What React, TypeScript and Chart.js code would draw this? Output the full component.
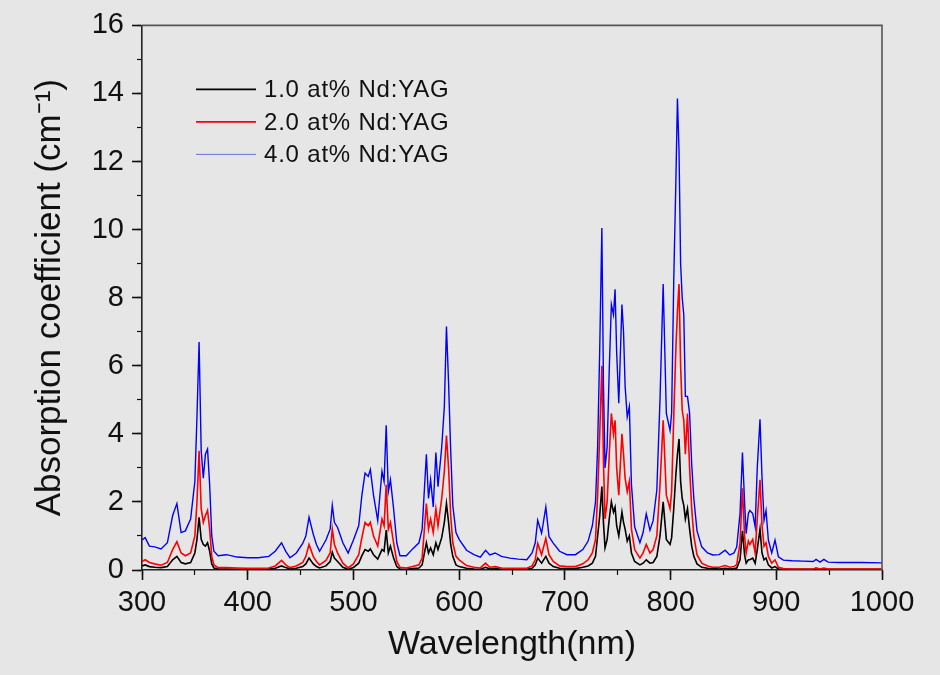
import React, { useEffect, useRef } from 'react';
import { Chart, registerables } from 'chart.js';

Chart.register(...registerables);

// Wavelength grid (nm), shared by all three spectra
const wavelengths = [
  300, 303, 307, 312, 318, 324, 329, 333, 337, 341,
  346, 350, 352, 354, 356, 358, 360, 362, 364, 366,
  368, 372, 380, 390, 400, 410, 420, 426, 432, 436,
  440, 446, 452, 455, 458, 462, 465, 468, 474, 478,
  480, 482, 485, 490, 495, 500, 505, 508, 511, 514,
  516, 519, 523, 527, 529, 531, 533, 535, 538, 541,
  544, 550, 556, 562, 565, 569, 571, 573, 575.5, 578,
  580, 583.5, 586, 588, 590, 592, 594, 597, 600, 607,
  614, 620, 625, 629, 634, 640, 648, 656, 664, 669,
  672, 674.3, 678, 682, 685, 689, 695, 702, 710, 717,
  722, 726, 729, 731, 733, 735, 736.5, 738, 740, 742,
  744, 746, 747.5, 749, 751, 754, 755.5, 757, 759, 761,
  763, 766, 771, 774, 777, 780.5, 783.5, 787, 790, 793,
  796, 799.5, 801, 803, 805, 806.5, 808, 809.5, 811, 812.5,
  814, 816, 818, 820, 822, 825, 829.5, 835, 840, 846,
  851.6, 856, 860, 862.6, 865.7, 868, 870, 871.5, 873.6, 875,
  877.7, 880, 882, 884.6, 886.5, 888.4, 890.3, 892.5, 895.7, 898.8,
  902, 906.7, 915, 925, 935, 937.6, 941.4, 945, 949, 960,
  980, 1000,
];

// 1.0 at% Nd:YAG absorption coefficient (cm^-1)
const nd10 = [
  0.12, 0.15, 0.1, 0.08, 0.07, 0.1, 0.3, 0.4, 0.22, 0.18,
  0.22, 0.5, 0.9, 1.55, 0.9, 0.75, 0.7, 0.8, 0.55, 0.18,
  0.06, 0.03, 0.03, 0.02, 0.02, 0.02, 0.03, 0.05, 0.12, 0.07,
  0.03, 0.05, 0.1, 0.18, 0.35, 0.18, 0.1, 0.06, 0.12, 0.25,
  0.52, 0.35, 0.25, 0.08, 0.02, 0.07, 0.2, 0.42, 0.6, 0.55,
  0.62, 0.45, 0.32, 0.6, 0.55, 1.17, 0.5, 0.7, 0.35, 0.1,
  0.03, 0.02, 0.04, 0.06, 0.15, 0.8, 0.5, 0.65, 0.45, 0.8,
  0.6, 0.95, 1.4, 1.95, 1.4, 0.75, 0.4, 0.15, 0.1, 0.05,
  0.03, 0.02, 0.08, 0.03, 0.04, 0.02, 0.02, 0.02, 0.02, 0.05,
  0.15, 0.35, 0.2, 0.4, 0.2, 0.1, 0.05, 0.04, 0.04, 0.08,
  0.12, 0.2, 0.4, 1.0, 1.6, 2.45, 1.4, 0.65, 0.9, 1.5,
  2.0, 1.7, 1.85, 1.3, 1.0, 1.7, 1.4, 1.2, 0.85, 1.0,
  0.5, 0.25, 0.15, 0.2, 0.3, 0.2, 0.22, 0.4, 1.0, 2.0,
  0.9, 0.75, 0.95, 1.8, 2.8, 3.4, 3.85, 2.6, 2.1, 1.9,
  1.5, 1.8, 1.2, 0.7, 0.4, 0.18, 0.08, 0.05, 0.04, 0.03,
  0.05, 0.03, 0.04, 0.06, 0.3, 1.15, 0.45, 0.2, 0.3, 0.3,
  0.35, 0.2, 0.6, 1.2, 0.5, 0.3, 0.35, 0.15, 0.06, 0.1,
  0.03, 0.02, 0.02, 0.02, 0.02, 0.03, 0.02, 0.03, 0.02, 0.02,
  0.02, 0.02,
];

// 2.0 at% Nd:YAG absorption coefficient (cm^-1)
const nd20 = [
  0.25, 0.3, 0.22, 0.18, 0.14, 0.22, 0.6, 0.83, 0.5, 0.42,
  0.5, 1.0, 2.0, 3.5, 1.8, 1.4, 1.6, 1.75, 1.2, 0.4,
  0.15, 0.07, 0.07, 0.06, 0.05, 0.05, 0.06, 0.12, 0.28, 0.15,
  0.07, 0.12, 0.22, 0.4, 0.75, 0.4, 0.25, 0.15, 0.28, 0.5,
  1.2, 0.75, 0.5, 0.2, 0.06, 0.18, 0.45, 0.95, 1.4, 1.3,
  1.4, 1.0, 0.7, 1.5, 1.3, 2.5, 1.2, 1.4, 0.8, 0.25,
  0.08, 0.06, 0.1, 0.15, 0.35, 1.95, 1.2, 1.5, 1.1, 1.8,
  1.3, 2.1, 2.9, 3.95, 3.0, 1.6, 0.8, 0.4, 0.3, 0.13,
  0.08, 0.06, 0.2, 0.08, 0.1, 0.06, 0.05, 0.05, 0.05, 0.12,
  0.3, 0.78, 0.45, 0.93, 0.45, 0.25, 0.12, 0.1, 0.1, 0.18,
  0.3, 0.5, 0.9, 2.2, 4.0, 6.0, 3.2, 1.5, 2.0, 3.4,
  4.6, 4.0, 4.4, 3.0, 2.2, 4.0, 3.4, 2.7, 2.3, 2.6,
  1.2, 0.6, 0.35, 0.5, 0.75, 0.5, 0.6, 1.0, 2.5, 4.4,
  2.2, 1.8, 2.3, 4.5, 6.5, 7.6, 8.4, 6.0, 4.7, 4.4,
  3.4, 4.6, 3.0, 1.8, 1.0, 0.45, 0.2, 0.12, 0.08, 0.08,
  0.13, 0.08, 0.1, 0.16, 0.8, 2.4, 1.0, 0.5, 0.85, 0.75,
  0.9, 0.5, 1.5, 2.65, 1.3, 0.7, 0.8, 0.4, 0.2, 0.3,
  0.08, 0.04, 0.03, 0.03, 0.03, 0.06, 0.03, 0.06, 0.03, 0.03,
  0.03, 0.03,
];

// 4.0 at% Nd:YAG absorption coefficient (cm^-1)
const nd40 = [
  0.88, 0.95, 0.7, 0.68, 0.62, 0.8, 1.6, 1.95, 1.1, 1.15,
  1.5, 2.6, 4.5, 6.7, 3.5, 2.7, 3.4, 3.55, 2.5, 1.0,
  0.55, 0.42, 0.45, 0.38, 0.36, 0.36, 0.4, 0.55, 0.8, 0.55,
  0.36, 0.5, 0.78, 1.0, 1.55, 1.05, 0.75, 0.55, 0.88, 1.2,
  1.9, 1.4, 1.25, 0.8, 0.5, 0.88, 1.3, 2.2, 2.85, 2.75,
  2.95, 2.2, 1.45, 2.9, 2.6, 4.25, 2.3, 2.65, 1.8, 0.8,
  0.42, 0.42, 0.62, 0.8, 1.2, 3.4, 2.1, 2.65, 1.85, 3.45,
  2.45, 3.6, 4.8, 7.15, 5.5, 3.5, 1.9, 1.1, 0.9, 0.58,
  0.45, 0.38, 0.58, 0.44, 0.5, 0.4, 0.35, 0.32, 0.3, 0.5,
  0.8, 1.46, 1.08, 1.85, 0.98, 0.79, 0.55, 0.45, 0.45, 0.6,
  0.85, 1.3, 2.0, 3.6, 6.5, 10.05, 5.5, 3.0, 3.6, 5.9,
  7.8, 7.5, 8.25, 6.4, 4.9, 7.8, 7.0, 5.4, 4.5, 4.8,
  2.5, 1.27, 0.8, 1.1, 1.65, 1.17, 1.45, 2.35, 5.0, 8.4,
  4.6, 4.1, 4.6, 8.5, 11.4, 13.85, 12.3, 9.0, 8.0, 7.5,
  5.1, 5.1, 4.6, 3.1, 2.1, 1.15, 0.68, 0.5, 0.44, 0.45,
  0.58, 0.44, 0.5, 0.68, 1.66, 3.45, 2.0, 1.07, 1.66, 1.75,
  1.66, 1.27, 3.0, 4.43, 2.72, 1.46, 1.75, 0.88, 0.5, 0.88,
  0.39, 0.29, 0.27, 0.26, 0.25, 0.31, 0.23, 0.31, 0.23, 0.22,
  0.22, 0.21,
];

const seriesLabels = ['1.0 at% Nd:YAG', '2.0 at% Nd:YAG', '4.0 at% Nd:YAG'];
const seriesColors = ['#000000', '#ff0000', '#0000ff'];
const legendColors = ['#000000', '#ff0000', 'rgba(60,60,230,0.7)'];

const xRange = [300, 1000];
const yRange = [0, 16];
const xTitle = 'Wavelength(nm)';
const yTitle = 'Absorption coefficient (cm\u207B\u00B9)';

const FONT = "'Liberation Sans', Arial, sans-serif";

const framePlugin = {
  id: 'frame',
  afterDatasetsDraw(chart: any) {
    const { ctx, chartArea: a } = chart;
    ctx.save();
    ctx.strokeStyle = '#555555';
    ctx.lineWidth = 1.6;
    ctx.beginPath();
    ctx.moveTo(a.left, a.top);
    ctx.lineTo(a.right, a.top);
    ctx.lineTo(a.right, a.bottom);
    ctx.stroke();
    ctx.restore();
  },
};

const insideLegend = {
  id: 'insideLegend',
  afterDraw(chart: any) {
    const { ctx, chartArea: a } = chart;
    ctx.save();
    ctx.font = `24px ${FONT}`;
    (ctx as any).letterSpacing = '0.8px';
    ctx.textBaseline = 'middle';
    ctx.textAlign = 'left';
    chart.data.datasets.forEach((ds: any, i: number) => {
      const y = a.top + 64 + i * 32.5;
      ctx.strokeStyle = legendColors[i];
      ctx.lineWidth = i === 2 ? 1 : 1.6;
      ctx.beginPath();
      ctx.moveTo(a.left + 54, y);
      ctx.lineTo(a.left + 114, y);
      ctx.stroke();
      ctx.fillStyle = '#111111';
      ctx.fillText(ds.label, a.left + 122, y + 1);
    });
    ctx.restore();
  },
};

export default function App() {
  const ref = useRef<HTMLCanvasElement | null>(null);

  useEffect(() => {
    document.body.style.margin = '0';
    const canvas = ref.current;
    if (!canvas) return;
    const series = [nd10, nd20, nd40];
    const chart = new Chart(canvas, {
      type: 'line',
      data: {
        datasets: series.map((vals, i) => ({
          label: seriesLabels[i],
          data: wavelengths.map((w, j) => ({ x: w, y: vals[j] })),
          borderColor: seriesColors[i],
          borderWidth: i === 2 ? 1.4 : 1.6,
          pointRadius: 0,
          tension: 0,
          fill: false,
          order: 3 - i,
        })),
      },
      options: {
        animation: false,
        responsive: false,
        maintainAspectRatio: false,
        events: [],
        layout: { padding: { top: 22, right: 58, left: 0, bottom: 0 } },
        plugins: { legend: { display: false }, tooltip: { enabled: false } },
        scales: {
          x: {
            type: 'linear',
            position: 'bottom',
            weight: 1,
            min: xRange[0],
            max: xRange[1],
            ticks: {
              stepSize: 100,
              color: '#111111',
              font: { family: FONT, size: 29 },
              padding: 6,
              maxRotation: 0,
              callback: (v: any) => String(v),
            },
            grid: { drawOnChartArea: false, drawTicks: true, tickLength: 10, tickColor: '#111111', tickWidth: 1.6 },
            border: { color: '#222222', width: 1.6 },
            title: {
              display: true,
              text: xTitle,
              color: '#111111',
              font: { family: FONT, size: 34 },
              padding: { top: 0, bottom: 10 },
            },
            afterFit: (s: any) => { s.height = 105; },
          },
          xMinor: {
            type: 'linear',
            position: 'bottom',
            weight: 0,
            min: xRange[0],
            max: xRange[1],
            ticks: { stepSize: 50, display: false },
            grid: { drawOnChartArea: false, drawTicks: true, tickLength: 5, tickColor: '#111111', tickWidth: 1.2 },
            border: { display: false },
            afterFit: (s: any) => { s.height = 0; },
          },
          y: {
            type: 'linear',
            position: 'left',
            weight: 1,
            min: yRange[0],
            max: yRange[1],
            ticks: {
              stepSize: 2,
              color: '#111111',
              font: { family: FONT, size: 29 },
              padding: 8,
              callback: (v: any) => String(v),
            },
            grid: { drawOnChartArea: false, drawTicks: true, tickLength: 10, tickColor: '#111111', tickWidth: 1.6 },
            border: { color: '#222222', width: 1.6 },
            title: {
              display: true,
              text: yTitle,
              color: '#111111',
              font: { family: FONT, size: 35 },
              padding: { top: 29, bottom: 0 },
            },
            afterFit: (s: any) => { s.width = 142; },
          },
          yMinor: {
            type: 'linear',
            position: 'left',
            weight: 0,
            min: yRange[0],
            max: yRange[1],
            ticks: { stepSize: 1, display: false },
            grid: { drawOnChartArea: false, drawTicks: true, tickLength: 5, tickColor: '#111111', tickWidth: 1.2 },
            border: { display: false },
            afterFit: (s: any) => { s.width = 0; },
          },
        },
      },
      plugins: [framePlugin, insideLegend],
    });
    return () => chart.destroy();
  }, []);

  return (
    <div style={{ position: 'absolute', left: 0, top: 0, width: 940, height: 675, background: '#e6e6e6' }}>
      <canvas ref={ref} width={940} height={675} style={{ width: 940, height: 675, display: 'block' }} />
    </div>
  );
}
